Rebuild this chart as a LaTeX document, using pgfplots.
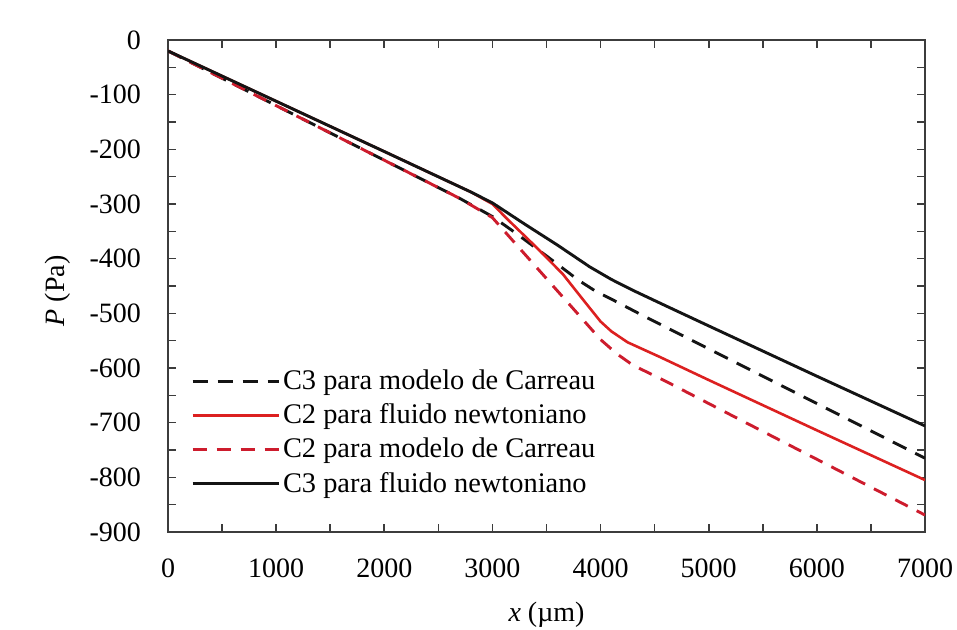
\documentclass[border=0pt]{standalone}
\usepackage{fontspec}
\setmainfont{Liberation Serif}
\usepackage{pgfplots}
\pgfplotsset{compat=1.18}

\definecolor{redsolid}{RGB}{220,32,32}
\definecolor{reddash}{RGB}{205,28,45}
\definecolor{nearblack}{RGB}{20,20,20}
\definecolor{axisgray}{RGB}{60,60,60}

\begin{document}
\begin{tikzpicture}
\begin{axis}[
  name=ax,
  scale only axis,
  width=378.5pt, height=246pt,
  xmin=0, xmax=7000, ymin=-900, ymax=0,
  xtick={0,1000,...,7000},
  ytick={-900,-800,...,0},
  minor x tick num=1,
  minor y tick num=1,
  tick align=inside,
  major tick length=4pt,
  minor tick length=4pt,
  every tick/.style={axisgray, line width=0.8pt},
  axis line style={axisgray, line width=1pt},
  tick label style={font=\fontsize{14}{16}\selectfont},
  /pgf/number format/assume math mode=true,
  /pgf/number format/1000 sep={},
  yticklabel style={xshift=-10pt},
  xticklabel style={yshift=-10pt},
  xlabel={\textit{x} (µm)},
  ylabel={\textit{P} (Pa)},
  label style={font=\fontsize{14}{16}\selectfont},
  xlabel style={at={(axis description cs:0.5,-0.169)}, anchor=center},
  ylabel style={at={(axis description cs:-0.145,0.49)}, anchor=center},
  legend style={at={(0.03,0.336)}, anchor=north west, draw=none, fill=none,
    font=\fontsize{14.2}{16}\selectfont, row sep=2.6pt, inner sep=0pt,
    nodes={inner sep=1.5pt}},
  legend cell align=left,
  legend image code/.code={\draw[#1] (0pt,0pt) -- (43pt,0pt);},
  every axis plot/.append style={line width=1.45pt},
]
% C3 Carreau
\addplot[nearblack, dash pattern=on 7.5pt off 5pt] coordinates {
 (0,-20) (1000,-120) (2000,-220) (2700,-290) (3000,-323) (3200,-351)
 (3500,-395) (3800,-440) (3950,-459) (4100,-474) (4400,-505)
 (5000,-565) (6000,-665) (7000,-765)};
\addlegendentry{C3 para modelo de Carreau}
% C2 Newtonian
\addplot[redsolid, line width=1.3pt] coordinates {
 (0,-20) (1000,-112) (2000,-204) (2800,-278) (3000,-300) (3150,-330)
 (3400,-378) (3650,-428) (3850,-478) (4000,-515) (4100,-533) (4250,-553)
 (4550,-580) (5000,-622) (6000,-714) (7000,-805)};
\addlegendentry{C2 para fluido newtoniano}
% C2 Carreau
\addplot[reddash, dash pattern=on 7pt off 5pt] coordinates {
 (0,-20) (1000,-120) (2000,-220) (2700,-290) (3000,-325) (3300,-392)
 (3700,-481) (4000,-548) (4150,-574) (4300,-595) (4600,-624)
 (5000,-665) (6000,-767) (7000,-869)};
\addlegendentry{C2 para modelo de Carreau}
% C3 Newtonian
\addplot[nearblack] coordinates {
 (0,-20) (1000,-112) (2000,-204) (2800,-278) (3000,-298) (3300,-337)
 (3600,-375) (3900,-415) (4100,-438) (4300,-458) (4600,-486)
 (5000,-523) (6000,-615) (7000,-706)};
\addlegendentry{C3 para fluido newtoniano}
\end{axis}
\pgfresetboundingbox
\path[use as bounding box] ([xshift=-84pt,yshift=-49pt]ax.south west)
  rectangle ([xshift=16pt,yshift=20pt]ax.north east);
\end{tikzpicture}
\end{document}
